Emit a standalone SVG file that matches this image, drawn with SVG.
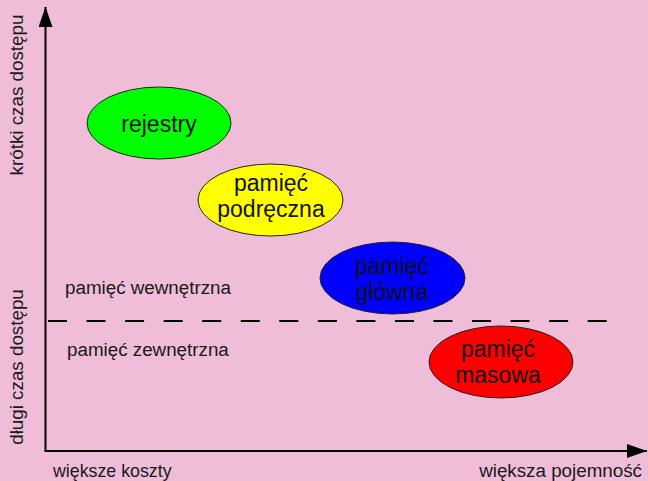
<svg xmlns="http://www.w3.org/2000/svg" width="648" height="481" viewBox="0 0 648 481">
<defs>
<style>
.node ellipse{stroke:#222;stroke-width:1}
.nt{font-family:"Liberation Sans",Arial,sans-serif;font-size:23px;fill:#111;text-anchor:middle}
.lb{font-family:"Liberation Sans",Arial,sans-serif;font-size:18.8px;fill:#1a1a1a}
.axis{stroke:#000;stroke-width:2;fill:none}
.dash{stroke:#000;stroke-width:2;stroke-dasharray:19 19.55;fill:none}
</style>
<marker id="ah" markerUnits="userSpaceOnUse" markerWidth="22" markerHeight="16" refX="20" refY="7" orient="auto">
<path d="M0,0 L20,7 L0,14 Z" fill="#000"/>
</marker>
</defs>
<rect width="648" height="481" fill="#efbdd8"/>
<g id="connectors">
<path class="axis" d="M45.5,451 L45.5,7" marker-end="url(#ah)"/>
<path class="axis" d="M44.5,451 L647,451" marker-end="url(#ah)"/>
<path class="dash" d="M48,321 L607,321"/>
</g>
<g id="rejestry" class="node">
<ellipse cx="159" cy="123" rx="72" ry="36" fill="#00ff00"/>
<text class="nt" x="159" y="132">rejestry</text>
</g>
<g id="podreczna" class="node">
<ellipse cx="270.5" cy="200" rx="72.5" ry="36" fill="#ffff00"/>
<text class="nt" x="271" y="191">pamięć</text>
<text class="nt" x="271" y="217">podręczna</text>
</g>
<g id="glowna" class="node">
<ellipse cx="392.5" cy="278" rx="72.5" ry="36" fill="#0000ff"/>
<text class="nt" x="392" y="274">pamięć</text>
<text class="nt" x="392" y="300">główna</text>
</g>
<g id="masowa" class="node">
<ellipse cx="501" cy="362" rx="72" ry="36" fill="#ff0000"/>
<text class="nt" x="498" y="357">pamięć</text>
<text class="nt" x="498" y="383">masowa</text>
</g>
<g id="labels">
<text class="lb" x="65" y="294">pamięć wewnętrzna</text>
<text class="lb" x="67" y="356">pamięć zewnętrzna</text>
<text class="lb" x="53" y="477" style="font-size:17.8px">większe koszty</text>
<text class="lb" x="642" y="477" text-anchor="end">większa pojemność</text>
<text class="lb" text-anchor="middle" transform="translate(23,95) rotate(-90)">krótki czas dostępu</text>
<text class="lb" text-anchor="middle" transform="translate(23,367) rotate(-90)">długi czas dostępu</text>
</g>
</svg>
